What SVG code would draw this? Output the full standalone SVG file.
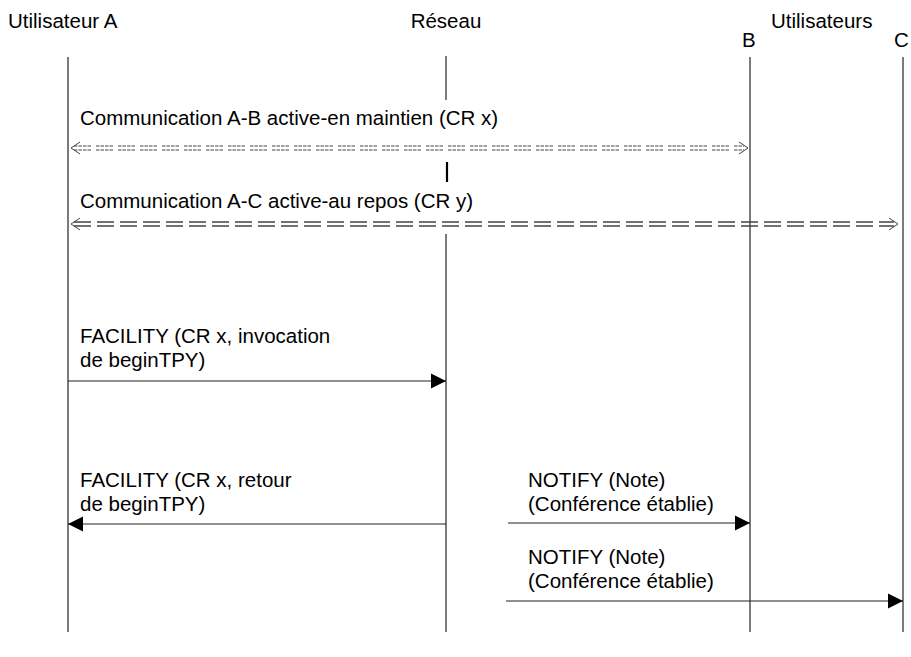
<svg xmlns="http://www.w3.org/2000/svg" width="911" height="657" viewBox="0 0 911 657">
  <style>
    .t { font-family: "Liberation Sans", Arial, sans-serif; font-size: 20.5px; fill: #000; }
    .life { stroke: #222; stroke-width: 1.2; fill: none; }
    .msg { stroke: #222; stroke-width: 1.2; fill: none; }
    .dot { stroke: #444; stroke-width: 1; fill: none; stroke-dasharray: 3.5 1 3.5 1 3.5 1 3.5 5; }
    .dash { stroke: #444; stroke-width: 1.3; fill: none; stroke-dasharray: 17 6; }
    .chev { stroke: #444; stroke-width: 1; fill: none; }
  </style>
  <defs>
    <marker id="ah" markerUnits="userSpaceOnUse" markerWidth="16" markerHeight="16" viewBox="0 0 16 16" refX="15" refY="8" orient="auto">
      <polygon points="0,0.5 15,8 0,15.5" fill="#000"/>
    </marker>
  </defs>
  <rect width="911" height="657" fill="#fff"/>

  <g id="userA">
    <text class="t" x="8" y="28">Utilisateur A</text>
    <line class="life" x1="68" y1="57" x2="68" y2="632"/>
  </g>
  <g id="reseau">
    <text class="t" x="446" y="28" text-anchor="middle">Réseau</text>
    <line class="life" x1="446" y1="56" x2="446" y2="100"/>
    <line x1="447" y1="162" x2="447" y2="182" stroke="#000" stroke-width="2.2"/>
    <line class="life" x1="446" y1="234" x2="446" y2="632"/>
  </g>
  <g id="utilisateurs">
    <text class="t" x="771" y="28">Utilisateurs</text>
  </g>
  <g id="userB">
    <text class="t" x="742" y="47">B</text>
    <line class="life" x1="750" y1="57" x2="750" y2="632"/>
  </g>
  <g id="userC">
    <text class="t" x="894" y="47">C</text>
    <line class="life" x1="903" y1="57" x2="903" y2="632"/>
  </g>

  <g id="connectors">
    <text class="t" x="80" y="125">Communication A-B active-en maintien (CR x)</text>
    <line class="dot" x1="74" y1="146" x2="744" y2="146"/>
    <line class="dot" x1="74" y1="150" x2="744" y2="150"/>
    <polyline class="chev" points="80,142 71,148 80,154"/>
    <polyline class="chev" points="739,142 748,148 739,154"/>

    <text class="t" x="80" y="208">Communication A-C active-au repos (CR y)</text>
    <line class="dash" x1="74" y1="222" x2="894" y2="222"/>
    <line class="dash" x1="74" y1="226" x2="894" y2="226"/>
    <polyline class="chev" points="80,218 71,224 80,230"/>
    <polyline class="chev" points="889,218 898,224 889,230"/>

    <text class="t" x="80" y="343">FACILITY (CR x, invocation</text>
    <text class="t" x="80" y="367">de beginTPY)</text>
    <line class="msg" x1="68" y1="381" x2="446" y2="381" marker-end="url(#ah)"/>

    <text class="t" x="80" y="487">FACILITY (CR x, retour</text>
    <text class="t" x="80" y="511">de beginTPY)</text>
    <line class="msg" x1="446" y1="524" x2="68" y2="524" marker-end="url(#ah)"/>

    <text class="t" x="528" y="487">NOTIFY (Note)</text>
    <text class="t" x="528" y="511">(Conférence établie)</text>
    <line class="msg" x1="508" y1="523" x2="750" y2="523" marker-end="url(#ah)"/>

    <text class="t" x="528" y="564">NOTIFY (Note)</text>
    <text class="t" x="528" y="588">(Conférence établie)</text>
    <line class="msg" x1="506" y1="601" x2="903" y2="601" marker-end="url(#ah)"/>
  </g>
</svg>
